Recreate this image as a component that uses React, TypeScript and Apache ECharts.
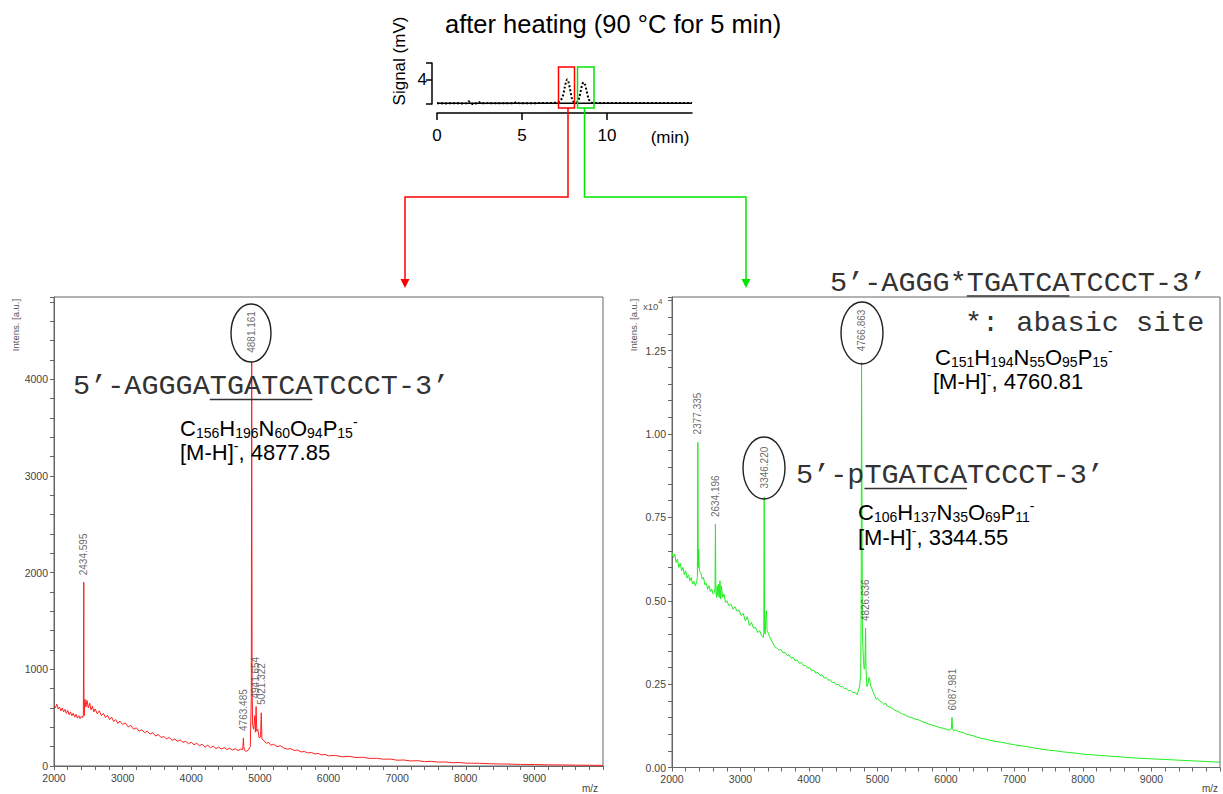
import React, { useEffect, useRef } from 'react';
import * as echarts from 'echarts';

const SANS = "'Liberation Sans', Arial, sans-serif";
const MONO = "'Liberation Mono', 'Courier New', monospace";

// ---- chromatogram (after heating) ----
const chromTime = [0, 0.5, 1.0, 1.5, 1.75, 1.85, 2.0, 2.15, 2.3, 2.45, 2.6, 3.0, 3.5, 4.0, 4.5, 4.7, 4.85, 5.5, 6.0, 6.5, 6.9, 7.1, 7.25, 7.4, 7.5, 7.6, 7.67, 7.75, 7.85, 7.95, 8.05, 8.15, 8.25, 8.35, 8.45, 8.55, 8.63, 8.7, 8.8, 8.9, 9.0, 9.1, 9.3, 9.6, 10, 11, 12, 13, 14, 15];
const chromSignal = [0.12, 0.1, 0.12, 0.1, 0.12, 0.45, 0.15, -0.05, 0.1, 0.35, 0.12, 0.15, 0.12, 0.12, 0.12, 0.3, 0.12, 0.12, 0.15, 0.15, 0.2, 0.25, 0.5, 1.3, 2.6, 3.8, 4.1, 3.5, 2.1, 0.8, 0.3, 0.22, 0.3, 0.9, 2.1, 3.3, 3.6, 3.3, 2.2, 1.0, 0.4, 0.2, 0.15, 0.15, 0.15, 0.15, 0.15, 0.15, 0.15, 0.15];
const chromBaseline = [[0, 0.12], [15, 0.12]];
const chromXTicks = [0, 5, 10];
const chromYTicks = [0, 4, 6.83];
const chromYLabels = [4];

// ---- left MALDI spectrum (red), [m/z, intensity a.u.] ----
const leftSpectrum = [
  [2000, 620], [2020, 600], [2040, 640], [2060, 590], [2080, 610], [2100, 570], [2120, 600], [2140, 560], [2160, 585], [2180, 545],
  [2200, 575], [2220, 530], [2240, 560], [2260, 520], [2280, 545], [2300, 505], [2320, 535], [2340, 495], [2360, 520], [2380, 490],
  [2400, 515], [2420, 500], [2428, 540], [2432, 1430], [2434, 1900], [2437, 620], [2440, 520], [2450, 690], [2465, 610], [2480, 680],
  [2500, 600], [2520, 650], [2540, 580], [2560, 620], [2580, 560], [2600, 590], [2630, 540], [2660, 570], [2690, 520], [2720, 545],
  [2750, 500], [2780, 525], [2810, 480], [2840, 505], [2870, 460], [2900, 480], [2930, 440], [2960, 465], [3000, 430], [3040, 445],
  [3080, 405], [3120, 420], [3160, 380], [3200, 395], [3240, 360], [3280, 375], [3320, 345], [3360, 360], [3400, 330], [3440, 345],
  [3480, 310], [3520, 325], [3560, 295], [3600, 305], [3640, 280], [3680, 295], [3720, 265], [3760, 280], [3800, 255], [3840, 270],
  [3880, 245], [3920, 255], [3960, 230], [4000, 245], [4040, 220], [4080, 235], [4120, 210], [4160, 225], [4200, 195], [4240, 215],
  [4280, 190], [4320, 205], [4360, 180], [4400, 195], [4440, 175], [4480, 190], [4520, 170], [4560, 185], [4600, 165], [4640, 180],
  [4680, 160], [4720, 175], [4750, 170], [4760, 290], [4766, 200], [4780, 160], [4800, 150], [4830, 165], [4860, 200], [4875, 700],
  [4881, 4180], [4887, 800], [4895, 420], [4910, 380], [4925, 520], [4935, 350], [4945, 615], [4955, 360], [4970, 380], [4990, 290],
  [5010, 300], [5020, 550], [5030, 280], [5050, 270], [5070, 250], [5100, 235], [5130, 245], [5160, 215], [5200, 225], [5250, 200],
  [5300, 210], [5350, 185], [5400, 175], [5450, 180], [5500, 160], [5550, 165], [5600, 145], [5650, 150], [5700, 135], [5750, 140],
  [5800, 125], [5850, 130], [5900, 115], [5950, 120], [6000, 105], [6100, 110], [6200, 95], [6300, 100], [6400, 88], [6500, 90],
  [6600, 78], [6700, 80], [6800, 70], [6900, 72], [7000, 60], [7100, 62], [7200, 52], [7300, 55], [7400, 45], [7500, 48],
  [7600, 40], [7700, 42], [7800, 34], [7900, 36], [8000, 30], [8200, 28], [8400, 22], [8600, 20], [8800, 16], [9000, 15],
  [9200, 12], [9400, 11], [9600, 9], [9800, 8], [10000, 6],
];

// ---- right MALDI spectrum (green), [m/z, intensity x10^4 a.u.] ----
const rightSpectrum = [
  [2000, 0.645], [2020, 0.63], [2040, 0.64], [2060, 0.615], [2080, 0.625], [2100, 0.6], [2120, 0.612], [2140, 0.59], [2160, 0.6], [2180, 0.578],
  [2200, 0.59], [2220, 0.568], [2240, 0.578], [2260, 0.56], [2280, 0.57], [2300, 0.55], [2320, 0.558], [2340, 0.545], [2360, 0.555], [2370, 0.57],
  [2377, 0.975], [2383, 0.6], [2390, 0.655], [2400, 0.59], [2420, 0.585], [2440, 0.565], [2460, 0.57], [2480, 0.548], [2500, 0.553], [2520, 0.535],
  [2540, 0.545], [2560, 0.528], [2580, 0.535], [2600, 0.52], [2620, 0.525], [2628, 0.54], [2634, 0.73], [2640, 0.53], [2650, 0.51], [2660, 0.545],
  [2670, 0.515], [2680, 0.55], [2690, 0.51], [2700, 0.56], [2710, 0.505], [2720, 0.545], [2740, 0.51], [2760, 0.52], [2780, 0.495], [2800, 0.5],
  [2830, 0.485], [2860, 0.49], [2890, 0.475], [2920, 0.482], [2950, 0.468], [2980, 0.472], [3010, 0.455], [3040, 0.462], [3070, 0.44], [3100, 0.452],
  [3130, 0.425], [3160, 0.435], [3190, 0.418], [3220, 0.42], [3250, 0.405], [3280, 0.41], [3310, 0.395], [3330, 0.39], [3340, 0.4], [3346, 0.81],
  [3352, 0.41], [3360, 0.4], [3372, 0.455], [3380, 0.47], [3388, 0.41], [3400, 0.405], [3420, 0.395], [3440, 0.385], [3460, 0.378], [3480, 0.37],
  [3500, 0.362], [3530, 0.358], [3560, 0.352], [3590, 0.354], [3620, 0.344], [3650, 0.345], [3680, 0.336], [3710, 0.338], [3740, 0.328], [3770, 0.33],
  [3800, 0.32], [3830, 0.322], [3860, 0.312], [3890, 0.315], [3920, 0.305], [3950, 0.306], [3980, 0.298], [4010, 0.3], [4040, 0.29], [4070, 0.292],
  [4100, 0.283], [4130, 0.285], [4160, 0.276], [4190, 0.278], [4220, 0.268], [4250, 0.27], [4280, 0.262], [4310, 0.263], [4340, 0.255], [4370, 0.256],
  [4400, 0.248], [4430, 0.25], [4460, 0.242], [4490, 0.243], [4520, 0.236], [4550, 0.237], [4580, 0.23], [4610, 0.231], [4640, 0.224], [4670, 0.226],
  [4700, 0.218], [4720, 0.228], [4740, 0.245], [4755, 0.28], [4762, 0.5], [4767, 1.215], [4772, 0.9], [4780, 0.4], [4795, 0.32], [4805, 0.295],
  [4815, 0.3], [4820, 0.35], [4826, 0.418], [4832, 0.3], [4845, 0.243], [4860, 0.25], [4875, 0.27], [4885, 0.265], [4900, 0.245], [4920, 0.235],
  [4940, 0.225], [4960, 0.215], [4980, 0.205], [5000, 0.208], [5030, 0.2], [5060, 0.196], [5090, 0.19], [5120, 0.192], [5150, 0.183], [5200, 0.18],
  [5250, 0.172], [5300, 0.168], [5350, 0.162], [5400, 0.158], [5450, 0.152], [5500, 0.15], [5550, 0.145], [5600, 0.143], [5650, 0.138], [5700, 0.134],
  [5750, 0.13], [5800, 0.127], [5850, 0.124], [5900, 0.12], [5950, 0.118], [6000, 0.115], [6050, 0.112], [6078, 0.115], [6088, 0.15], [6095, 0.118],
  [6110, 0.11], [6140, 0.113], [6180, 0.108], [6250, 0.105], [6300, 0.1], [6400, 0.095], [6500, 0.088], [6600, 0.084], [6700, 0.079], [6800, 0.076],
  [6900, 0.072], [7000, 0.068], [7100, 0.065], [7200, 0.062], [7300, 0.058], [7400, 0.055], [7500, 0.052], [7600, 0.05], [7700, 0.047], [7800, 0.045],
  [7900, 0.043], [8000, 0.04], [8200, 0.037], [8400, 0.034], [8600, 0.031], [8800, 0.028], [9000, 0.026], [9200, 0.024], [9400, 0.022], [9600, 0.02],
  [9800, 0.018], [10000, 0.016],
];

// peak annotations: [m/z, intensity, label, label distance]
const leftPeakLabels: [number, number, string, number][] = [
  [2434.595, 1900, '2434.595', 7],
  [4763.485, 290, '4763.485', 7],
  [4881.161, 4180, '4881.161', 9],
  [4941.654, 615, '4941.654', 8],
  [5021.322, 550, '5021.322', 8],
];
const rightPeakLabels: [number, number, string, number][] = [
  [2377.335, 0.975, '2377.335', 8],
  [2634.196, 0.73, '2634.196', 7],
  [3346.22, 0.81, '3346.220', 9],
  [4766.863, 1.215, '4766.863', 11],
  [4826.636, 0.418, '4826.636', 7],
  [6087.981, 0.15, '6087.981', 7],
];

const leftLabelTicks = [0, 1000, 2000, 3000, 4000];
const rightLabelTicks = [0, 0.25, 0.5, 0.75, 1.0, 1.25];
const mzLabelTicks = [2000, 3000, 4000, 5000, 6000, 7000, 8000, 9000];

const AXIS = '#666';

function specXAxis(gridIndex: number) {
  return {
    gridIndex, type: 'value', min: 2000, max: 10000, interval: 200,
    axisLine: { show: true, onZero: false, lineStyle: { color: AXIS, width: 1 } },
    axisTick: { show: true, length: 4, lineStyle: { color: AXIS } },
    axisLabel: {
      show: true, color: '#444', fontSize: 10.5, fontFamily: SANS, margin: 6,
      formatter: (v: number) => (mzLabelTicks.indexOf(Math.round(v)) >= 0 ? String(Math.round(v)) : ''),
    },
    splitLine: { show: false },
  };
}

function peakLabelSeries(axisIndex: number, labels: [number, number, string, number][]) {
  return {
    type: 'scatter', xAxisIndex: axisIndex, yAxisIndex: axisIndex, symbolSize: 0, silent: true, z: 5,
    data: labels.map(([x, y, t, d]) => ({ value: [x, y], name: t, label: { distance: d } })),
    itemStyle: { color: 'rgba(0,0,0,0)' },
    label: {
      show: true, position: 'top', rotate: 90, align: 'left', verticalAlign: 'middle',
      formatter: (p: any) => p.name, fontSize: 10, color: '#444', fontFamily: SANS,
    },
  };
}

const richFormula = {
  n: { fontSize: 22, lineHeight: 22, fontFamily: SANS, fill: '#000', verticalAlign: 'middle' },
  s: { fontSize: 14, lineHeight: 8, fontFamily: SANS, fill: '#000', verticalAlign: 'middle', padding: [10, 0, 0, 0] },
  p: { fontSize: 14, lineHeight: 8, fontFamily: SANS, fill: '#000', verticalAlign: 'middle', padding: [0, 0, 12, 0] },
};

function formulaText(x: number, y: number, text: string) {
  return {
    type: 'text', x, y, z: 10,
    style: { text, rich: richFormula, fill: '#000', fontSize: 22, fontFamily: SANS, align: 'left', verticalAlign: 'middle' },
  };
}

const PITCH = 17.1;
function monoText(x: number, y: number, text: string) {
  return {
    type: 'text', x, y, z: 10,
    style: { text, fontSize: 28.5, fontFamily: MONO, fill: '#333', align: 'left', verticalAlign: 'middle' },
  };
}
function underline(x: number, y: number, from: number, to: number) {
  return {
    type: 'line', z: 10,
    shape: { x1: x + from * PITCH, y1: y, x2: x + to * PITCH, y2: y },
    style: { stroke: '#333', lineWidth: 1.5 },
  };
}

const graphics: any[] = [
  { type: 'text', x: 445, y: 24, style: { text: 'after heating (90 °C for 5 min)', fontSize: 25.5, fontFamily: SANS, fill: '#000', align: 'left', verticalAlign: 'middle' } },
  { type: 'text', x: 399, y: 61, rotation: Math.PI / 2, style: { text: 'Signal (mV)', fontSize: 17, fontFamily: SANS, fill: '#000', align: 'center', verticalAlign: 'middle' } },
  { type: 'text', x: 670, y: 137, style: { text: '(min)', fontSize: 17, fontFamily: SANS, fill: '#000', align: 'center', verticalAlign: 'middle' } },
  { type: 'rect', z: 10, shape: { x: 558.5, y: 67, width: 16, height: 41 }, style: { fill: 'none', stroke: '#ff0000', lineWidth: 1.5 } },
  { type: 'rect', z: 10, shape: { x: 577.5, y: 67, width: 16.5, height: 41 }, style: { fill: 'none', stroke: '#00e600', lineWidth: 1.5 } },
  { type: 'polyline', z: 10, shape: { points: [[568, 108], [568, 197], [405, 197], [405, 281]] }, style: { fill: 'none', stroke: '#ff0000', lineWidth: 1.5 } },
  { type: 'polygon', z: 10, shape: { points: [[400.5, 279], [409.5, 279], [405, 288]] }, style: { fill: '#ff0000' } },
  { type: 'polyline', z: 10, shape: { points: [[584.5, 108], [584.5, 197], [746, 197], [746, 281]] }, style: { fill: 'none', stroke: '#00e600', lineWidth: 1.5 } },
  { type: 'polygon', z: 10, shape: { points: [[741.5, 279], [750.5, 279], [746, 288]] }, style: { fill: '#00e600' } },
  // ellipses around the key peak labels
  { type: 'ellipse', z: 10, shape: { cx: 251, cy: 333, rx: 20, ry: 29 }, style: { fill: 'none', stroke: '#222', lineWidth: 1.4 } },
  { type: 'ellipse', z: 10, shape: { cx: 764, cy: 468, rx: 21, ry: 31 }, style: { fill: 'none', stroke: '#222', lineWidth: 1.4 } },
  { type: 'ellipse', z: 10, shape: { cx: 862, cy: 333, rx: 21, ry: 31 }, style: { fill: 'none', stroke: '#222', lineWidth: 1.4 } },
  // axis names
  { type: 'text', x: 15, y: 325, rotation: Math.PI / 2, style: { text: 'Intens. [a.u.]', fontSize: 9.5, fontFamily: SANS, fill: '#555', align: 'center', verticalAlign: 'middle' } },
  { type: 'text', x: 633, y: 325, rotation: Math.PI / 2, style: { text: 'Intens. [a.u.]', fontSize: 9.5, fontFamily: SANS, fill: '#555', align: 'center', verticalAlign: 'middle' } },
  {
    type: 'text', x: 643, y: 304,
    style: {
      text: '{a|x10}{b|4}', fill: '#555', align: 'left', verticalAlign: 'middle',
      rich: { a: { fontSize: 9.5, fontFamily: SANS, fill: '#555', lineHeight: 14, verticalAlign: 'bottom' }, b: { fontSize: 7.5, fontFamily: SANS, fill: '#555', lineHeight: 10, verticalAlign: 'top' } },
    },
  },
  { type: 'text', x: 590, y: 788, style: { text: 'm/z', fontSize: 10, fontFamily: SANS, fill: '#444', align: 'center', verticalAlign: 'middle' } },
  { type: 'text', x: 1210, y: 788, style: { text: 'm/z', fontSize: 10, fontFamily: SANS, fill: '#444', align: 'center', verticalAlign: 'middle' } },
  // sequences
  monoText(73, 386, '5’-AGGGATGATCATCCCT-3’'),
  underline(73, 399.5, 8, 14),
  formulaText(180, 428, '{n|C}{s|156}{n|H}{s|196}{n|N}{s|60}{n|O}{s|94}{n|P}{s|15}{p|-}'),
  formulaText(180, 452, '{n|[M-H]}{p|-}{n|, 4877.85}'),
  monoText(830, 283, '5’-AGGG*TGATCATCCCT-3’'),
  underline(830, 296, 8, 14),
  monoText(965, 323, '*: abasic site'),
  formulaText(935, 357, '{n|C}{s|151}{n|H}{s|194}{n|N}{s|55}{n|O}{s|95}{n|P}{s|15}{p|-}'),
  formulaText(933, 381, '{n|[M-H]}{p|-}{n|, 4760.81}'),
  monoText(796, 475, '5’-pTGATCATCCCT-3’'),
  underline(796, 488.5, 4, 10),
  formulaText(858, 512, '{n|C}{s|106}{n|H}{s|137}{n|N}{s|35}{n|O}{s|69}{n|P}{s|11}{p|-}'),
  formulaText(858, 537, '{n|[M-H]}{p|-}{n|, 3344.55}'),
];

const option: any = {
  animation: false,
  backgroundColor: '#fff',
  textStyle: { fontFamily: SANS },
  grid: [
    { left: 437, top: 63, width: 255, height: 41, show: false },
    { left: 54, top: 297, width: 549, height: 469, show: true, borderColor: AXIS, borderWidth: 1, backgroundColor: 'transparent' },
    { left: 672, top: 297, width: 549, height: 470.5, show: true, borderColor: AXIS, borderWidth: 1, backgroundColor: 'transparent' },
  ],
  xAxis: [
    {
      gridIndex: 0, type: 'value', min: 0, max: 15, interval: 5, offset: 9,
      axisLine: { show: true, onZero: false, lineStyle: { color: '#000', width: 1.5 } },
      axisTick: { show: true, length: 7, customValues: chromXTicks, lineStyle: { color: '#000', width: 1.5 } },
      axisLabel: { show: true, customValues: chromXTicks, fontSize: 17, color: '#000', margin: 14, fontFamily: SANS },
      splitLine: { show: false },
    },
    specXAxis(1),
    specXAxis(2),
  ],
  yAxis: [
    {
      gridIndex: 0, type: 'value', min: 0, max: 6.83, interval: 4, offset: 5,
      axisLine: { show: true, onZero: false, lineStyle: { color: '#000', width: 1.5 } },
      axisTick: { show: true, length: 6, customValues: chromYTicks, lineStyle: { color: '#000', width: 1.5 } },
      axisLabel: { show: true, customValues: chromYLabels, fontSize: 17, color: '#000', margin: 5, fontFamily: SANS },
      splitLine: { show: false },
    },
    {
      gridIndex: 1, type: 'value', min: 0, max: 4850, interval: 200,
      axisLine: { show: true, onZero: false, lineStyle: { color: AXIS } },
      axisTick: { show: true, length: 4, lineStyle: { color: AXIS } },
      axisLabel: {
        show: true, color: '#444', fontSize: 10.5, fontFamily: SANS, margin: 6,
        formatter: (v: number) => (leftLabelTicks.indexOf(Math.round(v)) >= 0 ? String(Math.round(v)) : ''),
      },
      splitLine: { show: false },
    },
    {
      gridIndex: 2, type: 'value', min: 0, max: 1.411, interval: 0.05,
      axisLine: { show: true, onZero: false, lineStyle: { color: AXIS } },
      axisTick: { show: true, length: 4, lineStyle: { color: AXIS } },
      axisLabel: {
        show: true, color: '#444', fontSize: 10.5, fontFamily: SANS, margin: 6,
        formatter: (v: number) => (rightLabelTicks.some((t) => Math.abs(t - v) < 1e-6) ? v.toFixed(2) : ''),
      },
      splitLine: { show: false },
    },
  ],
  series: [
    { type: 'line', xAxisIndex: 0, yAxisIndex: 0, data: chromBaseline, symbol: 'none', silent: true, lineStyle: { color: '#000', width: 1.6 } },
    { type: 'line', xAxisIndex: 0, yAxisIndex: 0, data: chromTime.map((t, i) => [t, chromSignal[i]]), symbol: 'none', smooth: 0.3, silent: true, lineStyle: { color: '#000', width: 2, type: 'dotted' } },
    { type: 'line', xAxisIndex: 1, yAxisIndex: 1, data: leftSpectrum, symbol: 'none', silent: true, lineStyle: { color: '#ff1f1f', width: 1 } },
    { type: 'line', xAxisIndex: 2, yAxisIndex: 2, data: rightSpectrum, symbol: 'none', silent: true, lineStyle: { color: '#1fee1f', width: 1 } },
    peakLabelSeries(1, leftPeakLabels),
    peakLabelSeries(2, rightPeakLabels),
  ],
  graphic: graphics,
};

export default function App() {
  const ref = useRef<HTMLDivElement>(null);
  useEffect(() => {
    if (!ref.current) return;
    const chart = echarts.init(ref.current, null, { renderer: 'svg' });
    chart.setOption(option);
    return () => chart.dispose();
  }, []);
  return <div ref={ref} style={{ position: 'absolute', left: 0, top: 0, width: 1223, height: 794 }} />;
}
